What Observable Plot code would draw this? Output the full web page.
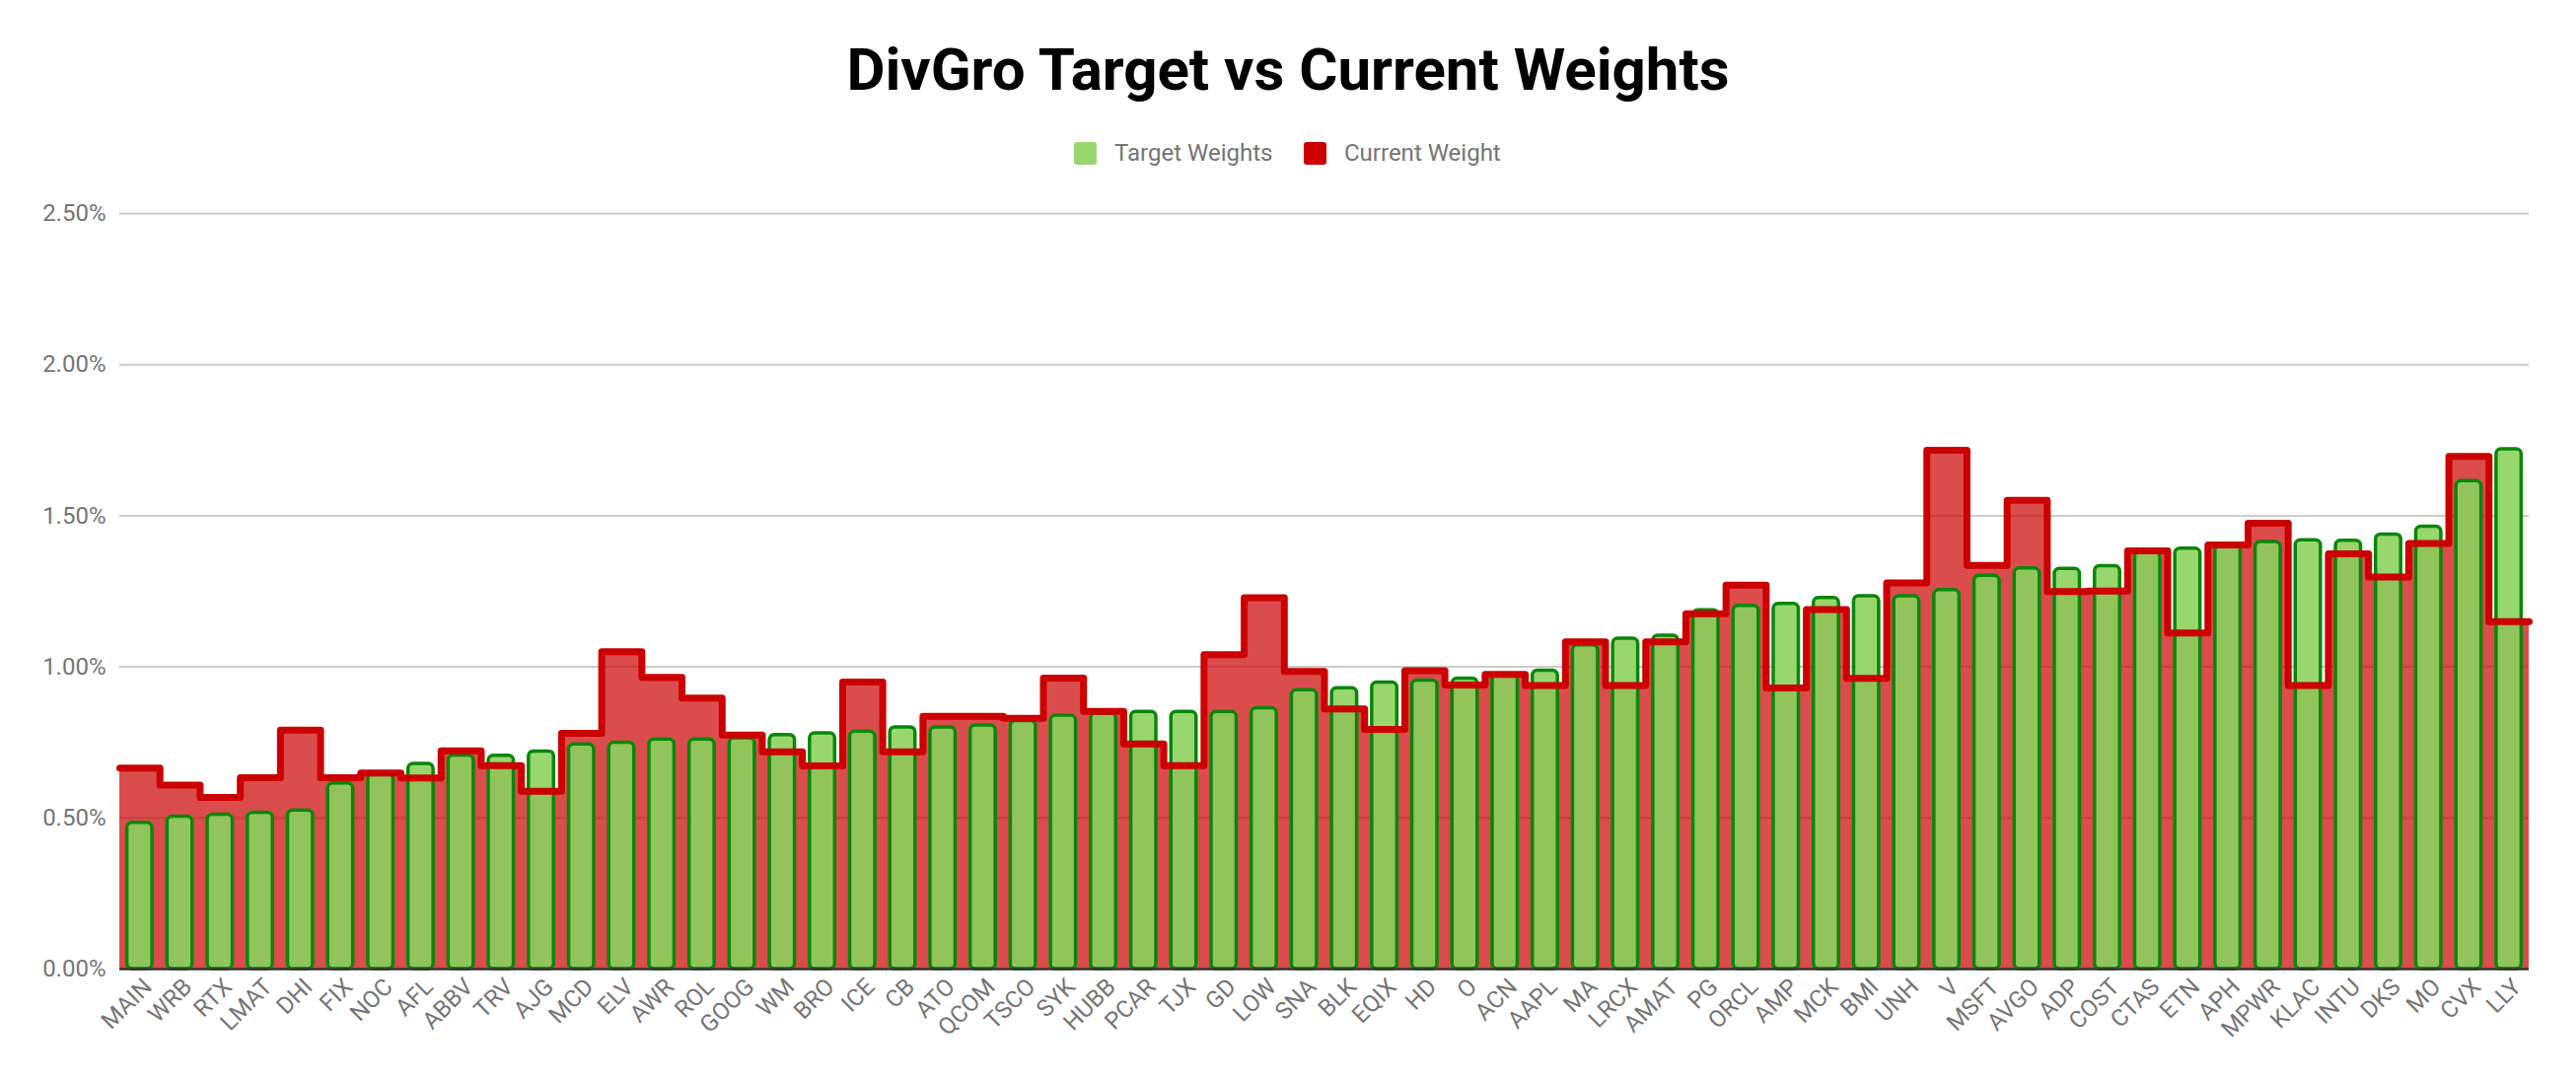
<!DOCTYPE html>
<html>
<head>
<meta charset="utf-8">
<script src="https://cdn.jsdelivr.net/npm/d3@7"></script>
<script src="https://cdn.jsdelivr.net/npm/@observablehq/plot@0.6"></script>
<style>
  html, body { margin: 0; padding: 0; background: #fff; width: 2612px; height: 1098px; overflow: hidden; }
  #title { position: absolute; left: 0; top: 41px; width: 2612px; text-align: center;
           font-family: Roboto, "Liberation Sans", sans-serif; font-weight: 700; font-size: 60px; line-height: 60px; color: #000; }
  #legend { position: absolute; left: 0; top: 141px; height: 28px; width: 2612px;
            font-family: Roboto, sans-serif; font-size: 24px; line-height: 28px; color: #757575; }
  .item { position: absolute; top: 0; display: flex; align-items: center; height: 28px; }
  .sw { width: 23px; height: 23px; border-radius: 3px; margin-right: 18px; }
  #chart { position: absolute; left: 0; top: 180px; }
</style>
</head>
<body>
<div id="title">DivGro Target vs Current Weights</div>
<div id="legend">
  <div class="item" style="left:1089px"><div class="sw" style="background:#98d76e"></div><span>Target Weights</span></div>
  <div class="item" style="left:1322px"><div class="sw" style="background:#cc0000"></div><span>Current Weight</span></div>
</div>
<div id="chart"></div>
<script>
const tickers = ["MAIN","WRB","RTX","LMAT","DHI","FIX","NOC","AFL","ABBV","TRV",
  "AJG","MCD","ELV","AWR","ROL","GOOG","WM","BRO","ICE","CB",
  "ATO","QCOM","TSCO","SYK","HUBB","PCAR","TJX","GD","LOW","SNA",
  "BLK","EQIX","HD","O","ACN","AAPL","MA","LRCX","AMAT","PG",
  "ORCL","AMP","MCK","BMI","UNH","V","MSFT","AVGO","ADP","COST",
  "CTAS","ETN","APH","MPWR","KLAC","INTU","DKS","MO","CVX","LLY"];

// Target weights (%)
const targetWeights = [0.484,0.504,0.511,0.517,0.525,0.614,0.646,0.679,0.707,0.706,
  0.720,0.743,0.749,0.760,0.760,0.764,0.774,0.780,0.786,0.800,
  0.800,0.806,0.821,0.839,0.845,0.851,0.851,0.851,0.863,0.923,
  0.929,0.948,0.955,0.961,0.975,0.987,1.071,1.093,1.103,1.187,
  1.202,1.208,1.228,1.234,1.234,1.254,1.301,1.326,1.324,1.333,
  1.379,1.391,1.403,1.413,1.419,1.417,1.438,1.464,1.615,1.720];

// Current weights (%)
const currentWeights = [0.665,0.609,0.568,0.633,0.791,0.633,0.649,0.632,0.722,0.673,
  0.588,0.780,1.050,0.965,0.897,0.774,0.719,0.672,0.950,0.719,
  0.836,0.836,0.830,0.963,0.853,0.745,0.673,1.040,1.229,0.985,
  0.861,0.793,0.987,0.940,0.975,0.938,1.083,0.938,1.083,1.176,
  1.270,0.930,1.190,0.962,1.278,1.717,1.336,1.551,1.249,1.251,
  1.384,1.112,1.403,1.475,0.938,1.374,1.297,1.408,1.696,1.150];

const yTicks = [0, 0.005, 0.01, 0.015, 0.02, 0.025];

const rows = tickers.map((t, i) => ({i, t, target: targetWeights[i] / 100, current: currentWeights[i] / 100}));
const stepData = rows.map(r => ({x: r.i, y: r.current}));
stepData.push({x: rows.length, y: rows[rows.length - 1].current});

const b1 = d => d.i + 0.187, b2 = d => d.i + 0.813;

const chart = Plot.plot({
  width: 2612,
  height: 918,
  marginTop: 36,
  marginBottom: 116,
  marginLeft: 121,
  marginRight: 48,
  style: {fontFamily: "Roboto, sans-serif", fontSize: "24px", color: "#757575", background: "white", overflow: "visible"},
  x: {domain: [0, rows.length], axis: null},
  y: {domain: [0, 0.025], axis: null},
  marks: [
    Plot.ruleY(yTicks.slice(1), {stroke: "#cccccc", strokeWidth: 2}),
    Plot.areaY(stepData, {x: "x", y: "y", curve: "step-after", fill: "#cc0000", fillOpacity: 0.7}),
    Plot.rectY(rows, {x1: b1, x2: b2, y: "target", fill: "#98d76e", rx: 5}),
    Plot.rectY(rows, {x1: b1, x2: b2, y: d => Math.min(d.target, d.current), fill: "#91c45b"}),
    Plot.rectY(rows, {x1: b1, x2: b2, y: "target", fill: "none", stroke: "#0a870a", strokeWidth: 3.5, rx: 5}),
    Plot.lineY(stepData, {x: "x", y: "y", curve: "step-after", stroke: "#cc0000", strokeWidth: 7, strokeLinejoin: "round"}),
    Plot.ruleY([0], {stroke: "#333333", strokeWidth: 2.5}),
    Plot.axisY({ticks: yTicks, tickFormat: d3.format(".2%"), tickSize: 0, tickPadding: 14, fontSize: 24, fill: "#757575", label: null}),
    Plot.axisX({ticks: rows.map(d => d.i + 0.5), tickFormat: d => tickers[Math.round(d - 0.5)],
      tickSize: 0, tickPadding: 14, tickRotate: -45, fontSize: 24, fill: "#757575", dx: 8, label: null})
  ]
});
document.getElementById("chart").appendChild(chart);
</script>
</body>
</html>
